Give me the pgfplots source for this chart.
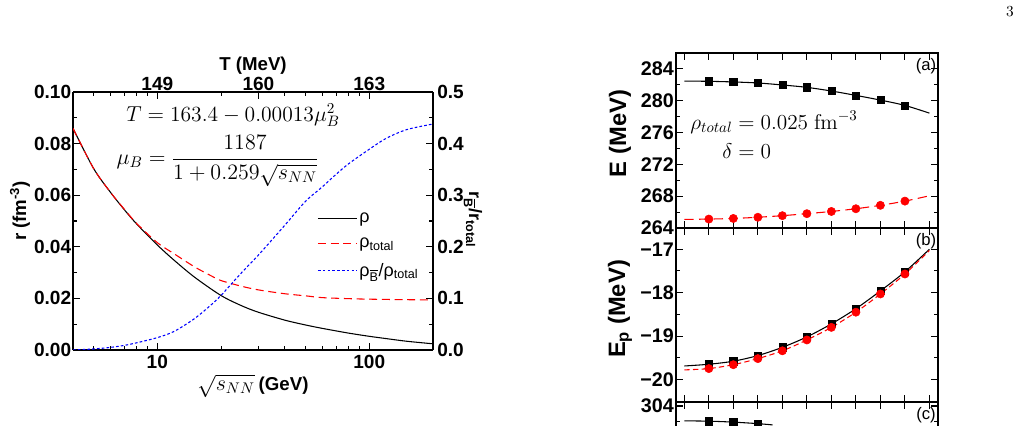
\RequirePackage{fix-cm}
\documentclass[border=0pt]{standalone}
\usepackage[no-math]{fontspec}
\setmainfont{Liberation Sans}
\usepackage{pgfplots}
\pgfplotsset{compat=1.18}
\newcommand{\tfont}{\fontsize{14.3}{16}\selectfont\bfseries}
\newcommand{\pfont}{\fontsize{14.8}{16}\selectfont\bfseries}
\newcommand{\Bbar}{\ensuremath{\overline{\mbox{B}}}}
\pgfplotsset{
  base/.style={scale only axis, tick align=inside, major tick length=5pt, minor tick length=3pt,
    tick style={black,line width=0.8pt}, axis line style={line width=1.1pt},
    /pgf/number format/assume math mode=true},
  panel/.style={base, at={(507pt,#1)}, anchor=south west, width=196.5pt,
    xmin=-0.34, xmax=10.35, xtick={0,1,2,3,4,5,6,7,8,9,10}, xticklabels={},
    minor y tick num=1, yticklabel style={font=\pfont, inner sep=1.5pt}, clip=true},
}
\begin{document}
\begin{tikzpicture}
\useasboundingbox (0,0) rectangle (768.75pt,318.75pt);
\clip (0,0) rectangle (768.75pt,318.75pt);
% ---------------- left chart: densities ----------------
\begin{axis}[base, at={(54.75pt,56.25pt)}, anchor=south west, width=270pt, height=193.5pt,
  xmode=log, xmin=4, xmax=200, ymin=0, ymax=0.1,
  axis x line*=bottom, axis y line*=left,
  xtick={10,100}, xticklabels={10,100},
  minor xtick={4,5,6,7,8,9,20,30,40,50,60,70,80,90,200},
  ytick={0,0.02,0.04,0.06,0.08,0.1}, yticklabels={0.00,0.02,0.04,0.06,0.08,0.10},
  minor ytick={0.01,0.03,0.05,0.07,0.09},
  xticklabel style={font=\tfont, inner sep=1pt, yshift=-3pt},
  yticklabel style={font=\tfont, inner sep=1.2pt}]
\addplot[black, line width=0.8pt, smooth] coordinates {
(4,0.0859) (5,0.0704) (6,0.0612) (7,0.0543) (8,0.0488) (10,0.0407) (12,0.0348)
(15,0.0282) (20,0.0211) (25,0.01715) (30,0.01463) (40,0.01156) (50,0.00971) (60,0.00839)
(80,0.00654) (100,0.00531) (120,0.00443) (150,0.00340) (200,0.0024)};
\addplot[red, line width=0.8pt, smooth, dash pattern=on 6pt off 3.5pt] coordinates {
(4,0.0859) (5,0.0704) (6,0.0612) (7,0.0545) (8,0.0490) (10,0.0416) (12,0.0373)
(15,0.0322) (18,0.0287) (20,0.0269) (25,0.0247) (30,0.0233) (40,0.0218) (50,0.0210)
(60,0.0203) (80,0.0199) (100,0.0197) (150,0.0195) (200,0.0194)};
\end{axis}
\begin{axis}[base, at={(54.75pt,56.25pt)}, anchor=south west, width=270pt, height=193.5pt,
  xmode=log, xmin=4, xmax=200, ymin=0, ymax=0.5,
  axis x line*=top, axis y line*=right,
  xtick={10,30,100}, xticklabels={149,160,163},
  minor xtick={4,5,6,7,8,9,20,40,50,60,70,80,90,200},
  ytick={0,0.1,0.2,0.3,0.4,0.5}, yticklabels={0.0,0.1,0.2,0.3,0.4,0.5},
  minor ytick={0.05,0.15,0.25,0.35,0.45},
  xticklabel style={font=\tfont, inner sep=0.5pt},
  yticklabel style={font=\tfont, inner sep=1.5pt, xshift=1.5pt},
  legend style={draw=none, fill=none, at={(0.667,0.553)}, anchor=north west,
    font=\fontsize{13.5}{15}\selectfont, row sep=6pt, cells={anchor=west},
    nodes={inner xsep=1.5pt}},
  legend image code/.code={\draw[mark repeat=2,mark phase=2,#1] plot coordinates {(0pt,0pt) (14.5pt,0pt) (29pt,0pt)};}]
\addlegendimage{draw=black, line width=0.8pt}
\addlegendentry{ρ}
\addlegendimage{draw=red, color=red, line width=0.9pt, dash pattern=on 6pt off 3.5pt}
\addlegendentry{ρ\textsubscript{total}}
\addlegendimage{draw=blue, color=blue, line width=0.9pt, dash pattern=on 2pt off 1.6pt}
\addlegendentry{ρ\textsubscript{\Bbar}/ρ\textsubscript{total}}
\addplot[blue, line width=0.8pt, smooth, dash pattern=on 2pt off 1.6pt, forget plot] coordinates {
(4,0.000) (5,0.002) (6,0.005) (7,0.009) (8,0.014) (10,0.024) (12,0.036) (15,0.061)
(18,0.088) (20,0.106) (25,0.150) (30,0.184) (40,0.242) (50,0.288) (60,0.316)
(70,0.341) (80,0.361) (100,0.389) (120,0.410) (150,0.427) (200,0.438)};
\end{axis}
% ---------------- right panels ----------------
\begin{axis}[panel=147.75pt, height=131.25pt, ymin=264, ymax=286, ytick={264,268,272,276,280,284}]
\addplot[black, line width=0.8pt, smooth] coordinates {
(0,282.47) (1,282.44) (2,282.36) (3,282.23) (4,281.98) (5,281.68) (6,281.22) (7,280.67) (8,280.08) (9,279.41) (10,278.44)};
\addplot[only marks, mark=square*, mark size=2.7pt, black] coordinates {
(1,282.44) (2,282.36) (3,282.23) (4,281.98) (5,281.68) (6,281.22) (7,280.67) (8,280.08) (9,279.41)};
\addplot[red, line width=0.8pt, smooth, dash pattern=on 7pt off 4pt] coordinates {
(0,265.08) (1,265.12) (2,265.20) (3,265.35) (4,265.55) (5,265.80) (6,266.08) (7,266.42) (8,266.85) (9,267.38) (10,268.05)};
\addplot[only marks, mark=*, mark size=3.1pt, red] coordinates {
(1,265.12) (2,265.20) (3,265.35) (4,265.55) (5,265.80) (6,266.08) (7,266.42) (8,266.85) (9,267.38)};
\end{axis}
\begin{axis}[panel=17.25pt, height=130.5pt, ymin=-20.52, ymax=-16.51, ytick={-20,-19,-18,-17},
  yticklabels={−20,−19,−18,−17}]
\addplot[black, line width=0.8pt, smooth] coordinates {
(0,-19.69) (1,-19.65) (2,-19.58) (3,-19.45) (4,-19.26) (5,-19.02) (6,-18.72) (7,-18.37) (8,-17.96) (9,-17.52) (10,-17.00)};
\addplot[only marks, mark=square*, mark size=2.7pt, black] coordinates {
(1,-19.65) (2,-19.58) (3,-19.45) (4,-19.26) (5,-19.02) (6,-18.72) (7,-18.37) (8,-17.96) (9,-17.52)};
\addplot[red, line width=0.8pt, smooth, dash pattern=on 4pt off 2.5pt] coordinates {
(0,-19.78) (1,-19.75) (2,-19.66) (3,-19.52) (4,-19.34) (5,-19.09) (6,-18.80) (7,-18.45) (8,-18.03) (9,-17.57) (10,-17.03)};
\addplot[only marks, mark=*, mark size=3.1pt, red] coordinates {
(1,-19.75) (2,-19.66) (3,-19.52) (4,-19.34) (5,-19.09) (6,-18.80) (7,-18.45) (8,-18.03) (9,-17.57)};
\end{axis}
\begin{axis}[panel=-114pt, height=131.25pt, ymin=282.5, ymax=304.5, ytick={284,288,292,296,300,304}]
\addplot[black, line width=0.8pt, smooth] coordinates {
(0,302.13) (1,302.09) (2,301.97) (3,301.78) (3.6,301.62)};
\addplot[only marks, mark=square*, mark size=2.7pt, black] coordinates {
(1,302.09) (2,301.97) (3,301.78)};
\end{axis}
% ---------------- texts (pixel coordinates) ----------------
\begin{scope}[x=0.75pt, y=-0.75pt, shift={(0pt,318.75pt)}]
\node[rotate=90, font=\fontsize{14}{16}\selectfont\bfseries] at (20,211) {r (fm\textsuperscript{-3})};
\node[rotate=-90, font=\fontsize{13.5}{15}\selectfont\bfseries] at (473,220) {r\textsubscript{\Bbar}/r\textsubscript{total}};
\node[anchor=base, inner sep=0pt] at (253,390) {{\fontsize{16.5}{18}\selectfont$\sqrt{s_{NN}}$}\kern3pt{\fontsize{14}{16}\selectfont\bfseries (GeV)}};
\node[anchor=base, inner sep=0pt, font=\fontsize{14}{16}\selectfont\bfseries] at (253,70.5) {T (MeV)};
\node[anchor=base, inner sep=0pt, font=\fontsize{16.2}{18}\selectfont] at (233,121.5) {$T=163.4-0.00013\mu_B^2$};
\node[inner sep=0pt, font=\fontsize{16.5}{18}\selectfont] at (217.5,161) {$\displaystyle\mu_B=\frac{1187}{1+0.259\sqrt{s_{NN}}}$};
\node[anchor=base, inner sep=0pt, font=\fontsize{16}{18}\selectfont] at (774,129.3) {$\rho_{total}=0.025\ \mathrm{fm}^{-3}$};
\node[anchor=base, inner sep=0pt, font=\fontsize{16}{18}\selectfont] at (746.7,159) {$\delta=0$};
\node[rotate=90, font=\fontsize{17.8}{20}\selectfont\bfseries] at (620,133.5) {E (MeV)};
\node[rotate=90, font=\fontsize{17.8}{20}\selectfont\bfseries] at (620,309) {E\textsubscript{p} (MeV)};
\node[font=\fontsize{12.5}{14}\selectfont] at (926,66.5) {(a)};
\node[font=\fontsize{12.5}{14}\selectfont] at (926,241.5) {(b)};
\node[font=\fontsize{12.5}{14}\selectfont] at (926,415) {(c)};
\node[font=\fontsize{11.5}{13}\selectfont] at (1010,12) {$3$};
\end{scope}
\end{tikzpicture}
\end{document}
